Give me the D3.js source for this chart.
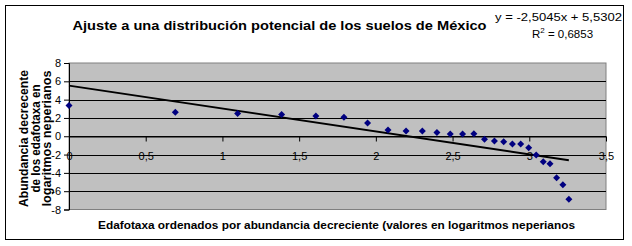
<!DOCTYPE html>
<html>
<head>
<meta charset="utf-8">
<script src="https://cdn.jsdelivr.net/npm/d3@7/dist/d3.min.js"></script>
<style>
  html, body { margin: 0; padding: 0; background: #ffffff; }
  svg { display: block; font-family: "Liberation Sans", Arial, sans-serif; }
</style>
</head>
<body>
<div id="zona"></div>
<script>
// Datos: x = ln(rango), y = ln(abundancia)
var rangoLn = [0, 0.693, 1.099, 1.386, 1.609, 1.792, 1.946, 2.079, 2.197, 2.303, 2.398, 2.485, 2.565,
  2.639, 2.708, 2.773, 2.833, 2.890, 2.944, 2.996, 3.045, 3.091, 3.135, 3.178, 3.219, 3.258];
var abundanciaLn = [3.35, 2.63, 2.48, 2.37, 2.22, 2.08, 1.46, 0.69, 0.58, 0.58, 0.40, 0.25, 0.25,
  0.27, -0.33, -0.51, -0.59, -0.84, -0.84, -1.25, -2.05, -2.78, -3.00, -4.53, -5.30, -6.87];

// Ticks de los ejes
var xTicks = [0, 0.5, 1, 1.5, 2, 2.5, 3, 3.5];
var xTickLabels = ["0", "0,5", "1", "1,5", "2", "2,5", "3", "3,5"];
var yTicks = [-8, -6, -4, -2, 0, 2, 4, 6, 8];
var yTickLabels = ["-8", "-6", "-4", "-2", "0", "2", "4", "6", "8"];

// Linea de tendencia (del texto del grafico)
var pendiente = -2.5045;
var ordenada = 5.5302;
var ecuacion = ["y = -2,5045x + 5,5302", "R", "2", " = 0,6853"];

(function() {
  "use strict";

  var ancho = 632;
  var alto = 246;

  // zona de trazado (gris)
  var plot = { left: 69, right: 606, top: 63, bottom: 209.5 };

  var svg = d3.select("#zona")
    .append("svg")
    .attr("width", ancho)
    .attr("height", alto);

  // borde exterior del grafico
  svg.append("rect")
    .attr("x", 5.5).attr("y", 5.5)
    .attr("width", 618).attr("height", 234)
    .attr("fill", "#ffffff")
    .attr("stroke", "#000000")
    .attr("stroke-width", 1);

  var x = d3.scaleLinear().domain([0, 3.5]).range([plot.left, plot.right]);
  var y = d3.scaleLinear().domain([-8, 8]).range([plot.bottom, plot.top]);

  // fondo gris de la zona de trazado
  svg.append("rect")
    .attr("x", plot.left).attr("y", plot.top)
    .attr("width", plot.right - plot.left)
    .attr("height", plot.bottom - plot.top)
    .attr("fill", "#c0c0c0")
    .attr("stroke", "#808080")
    .attr("stroke-width", 1);

  // lineas de division horizontales
  svg.append("g")
    .selectAll("line")
    .data(yTicks.slice(1, -1))
    .enter()
    .append("line")
    .attr("x1", plot.left).attr("x2", plot.right)
    .attr("y1", function(d) { return Math.round(y(d)) + 0.5; })
    .attr("y2", function(d) { return Math.round(y(d)) + 0.5; })
    .attr("stroke", "#000000")
    .attr("stroke-width", 1);

  // eje Y a la izquierda
  var ejeY = d3.axisLeft(y)
    .tickValues(yTicks)
    .tickSize(5)
    .tickPadding(3)
    .tickFormat(function(d, i) { return yTickLabels[i]; });

  var gY = svg.append("g")
    .attr("transform", "translate(" + plot.left + ",0)")
    .call(ejeY);
  gY.select(".domain").attr("stroke", "#000000");
  gY.selectAll("text")
    .attr("font-family", "'Liberation Sans', Arial, sans-serif")
    .attr("font-size", 11)
    .attr("fill", "#000000");

  // eje X que cruza en y = 0
  var ejeX = d3.axisBottom(x)
    .tickValues(xTicks)
    .tickSize(5)
    .tickPadding(11)
    .tickSizeOuter(0)
    .tickFormat(function(d, i) { return xTickLabels[i]; });

  var gX = svg.append("g")
    .attr("transform", "translate(0," + (Math.round(y(0)) + 0.5) + ")")
    .call(ejeX);
  gX.select(".domain").attr("stroke", "#000000");
  gX.selectAll("text")
    .attr("font-family", "'Liberation Sans', Arial, sans-serif")
    .attr("font-size", 11)
    .attr("fill", "#000000");

  // linea de tendencia
  var xFin = d3.max(rangoLn);
  svg.append("line")
    .attr("x1", x(0)).attr("y1", y(ordenada))
    .attr("x2", x(xFin)).attr("y2", y(pendiente * xFin + ordenada))
    .attr("stroke", "#000000")
    .attr("stroke-width", 2);

  // puntos en rombo azul marino
  var rombo = "M0,-3.5L3.5,0L0,3.5L-3.5,0Z";
  svg.append("g")
    .selectAll("path")
    .data(rangoLn)
    .enter()
    .append("path")
    .attr("d", rombo)
    .attr("transform", function(d, i) {
      return "translate(" + x(d) + "," + y(abundanciaLn[i]) + ")";
    })
    .attr("fill", "#000080");

  // titulo (Excel lo dibuja mas ancho: se fuerza el largo)
  svg.append("text")
    .attr("x", 72.5).attr("y", 30)
    .attr("font-size", 13)
    .attr("font-weight", "bold")
    .attr("textLength", 414)
    .attr("lengthAdjust", "spacingAndGlyphs")
    .text("Ajuste a una distribución potencial de los suelos de México");

  // ecuacion de la tendencia
  svg.append("text")
    .attr("x", 495).attr("y", 20.5)
    .attr("font-size", 11)
    .attr("textLength", 127)
    .attr("lengthAdjust", "spacingAndGlyphs")
    .text(ecuacion[0]);

  // R² : ancrage a gauche, plus fiable avec les tspan
  var r2 = svg.append("text")
    .attr("x", 532).attr("y", 37.5)
    .attr("font-size", 11.5);
  r2.append("tspan").text(ecuacion[1]);
  r2.append("tspan").attr("dy", -5).attr("font-size", 8).text(ecuacion[2]);
  r2.append("tspan").attr("dy", 5).text(ecuacion[3]);

  // titulo del eje Y (tres lineas giradas)
  var tituloY = ["Abundancia decrecente", "de los edafotaxa en", "logaritmos neperianos"];
  var largoY = [137, 108, 136];
  var baseY = [28, 39.5, 51];
  svg.append("g")
    .selectAll("text")
    .data(tituloY)
    .enter()
    .append("text")
    .attr("transform", function(d, i) {
      return "translate(" + baseY[i] + ",138.5) rotate(-90)";
    })
    .attr("text-anchor", "middle")
    .attr("font-size", 12)
    .attr("font-weight", "bold")
    .attr("textLength", function(d, i) { return largoY[i]; })
    .attr("lengthAdjust", "spacingAndGlyphs")
    .text(function(d) { return d; });

  // titulo del eje X
  svg.append("text")
    .attr("x", 98).attr("y", 229)
    .attr("font-size", 11.5)
    .attr("font-weight", "bold")
    .attr("textLength", 477)
    .attr("lengthAdjust", "spacingAndGlyphs")
    .text("Edafotaxa ordenados por abundancia decreciente (valores en logaritmos neperianos");

})();
</script>
</body>
</html>
